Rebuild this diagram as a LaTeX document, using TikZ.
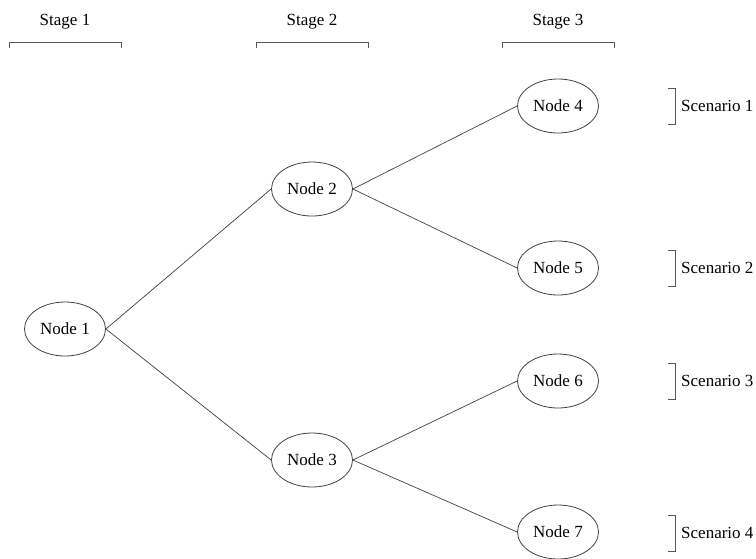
\documentclass[tikz,border=0pt]{standalone}
\usepackage{fontspec}
\setmainfont{Liberation Serif}
\usetikzlibrary{shapes.geometric}
\begin{document}
\begin{tikzpicture}[x=1pt,y=-1pt,
  treenode/.style={ellipse,draw=black!75,line width=0.8pt,minimum width=81pt,minimum height=54pt,inner sep=0pt,font=\fontsize{17}{20}\selectfont},
  edge/.style={draw=black!75,line width=0.7pt},
  brk/.style={draw=black!65,line width=1pt},
  lbl/.style={font=\fontsize{17}{20}\selectfont,inner sep=0pt}]
\useasboundingbox (0,0) rectangle (756,558);
% stages
\node[lbl] (s1) at (65,22) {Stage 1};
\node[lbl] (s2) at (312,22) {Stage 2};
\node[lbl] (s3) at (558,22) {Stage 3};
\foreach \c in {65,312,558}{
  \draw[brk] (\c-56,48) -- (\c-56,42) -- (\c+56,42) -- (\c+56,48);
}
% nodes
\node[treenode] (n1) at (65,329) {Node 1};
\node[treenode] (n2) at (312,189) {Node 2};
\node[treenode] (n3) at (312,460) {Node 3};
\node[treenode] (n4) at (558,106) {Node 4};
\node[treenode] (n5) at (558,268) {Node 5};
\node[treenode] (n6) at (558,381) {Node 6};
\node[treenode] (n7) at (558,532) {Node 7};
% edges
\draw[edge] (n1.east) -- (n2.west);
\draw[edge] (n1.east) -- (n3.west);
\draw[edge] (n2.east) -- (n4.west);
\draw[edge] (n2.east) -- (n5.west);
\draw[edge] (n3.east) -- (n6.west);
\draw[edge] (n3.east) -- (n7.west);
% scenarios
\foreach \y/\t [count=\i] in {106/Scenario 1,268/Scenario 2,381/Scenario 3,533/Scenario 4}{
  \draw[brk] (668,\y-18) -- (675,\y-18) -- (675,\y+18) -- (668,\y+18);
  \node[lbl,anchor=west] (sc\i) at (681,\y) {\t};
}
\end{tikzpicture}
\end{document}
